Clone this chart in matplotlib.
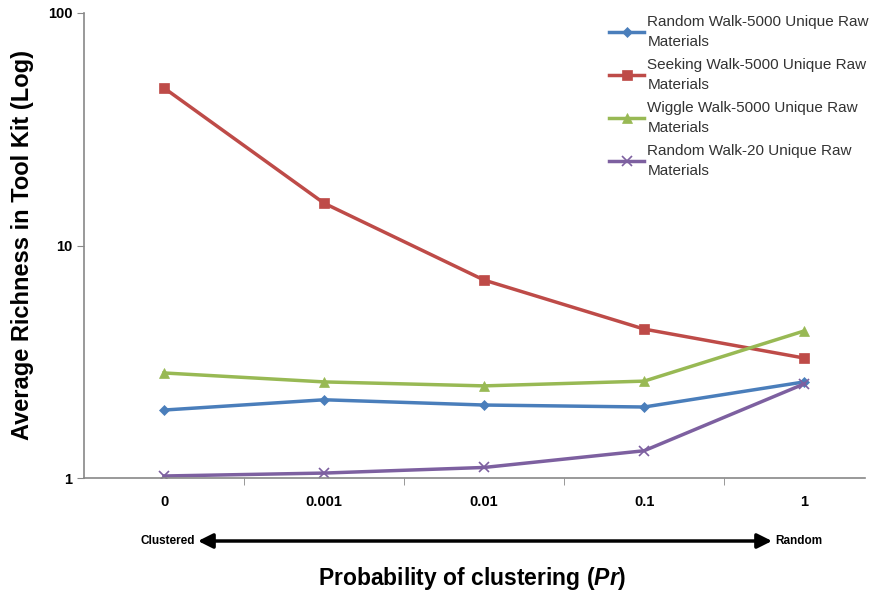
import matplotlib.pyplot as plt
from matplotlib.ticker import FixedLocator, NullLocator

plt.rcParams['font.family'] = ['Liberation Sans', 'DejaVu Sans']
plt.rcParams['mathtext.fontset'] = 'custom'
plt.rcParams['mathtext.it'] = 'Liberation Sans:italic:bold'
plt.rcParams['mathtext.rm'] = 'Liberation Sans:bold'

# Data
categories = ['0', '0.001', '0.01', '0.1', '1']
random_5000 = [1.96, 2.17, 2.06, 2.02, 2.59]
seeking_5000 = [47.6, 15.2, 7.1, 4.37, 3.28]
wiggle_5000 = [2.83, 2.59, 2.49, 2.61, 4.29]
random_20 = [1.02, 1.05, 1.11, 1.31, 2.54]

series = [
    ('Random Walk-5000 Unique Raw\nMaterials', random_5000, '#4A7EBB', 'D', 5),
    ('Seeking Walk-5000 Unique Raw\nMaterials', seeking_5000, '#BE4B48', 's', 7),
    ('Wiggle Walk-5000 Unique Raw\nMaterials', wiggle_5000, '#98B954', '^', 7),
    ('Random Walk-20 Unique Raw\nMaterials', random_20, '#7D60A0', 'x', 7),
]

fig = plt.figure(figsize=(8.76, 5.93), dpi=100)
ax = fig.add_axes([84 / 876, 1 - 478 / 593, (865 - 84) / 876, (478 - 13) / 593])

x = list(range(len(categories)))
for label, vals, color, marker, ms in series:
    ax.plot(x, vals, color=color, lw=2.5, marker=marker, markersize=ms,
            markeredgewidth=1.2 if marker == 'x' else 0.5, label=label)

ax.set_yscale('log')
ax.set_ylim(1, 100)
ax.yaxis.set_major_locator(FixedLocator([1, 10, 100]))
ax.yaxis.set_minor_locator(NullLocator())
ax.set_yticklabels(['1', '10', '100'])

ax.set_xlim(-0.5, 4.38)
ax.set_xticks(x)
ax.set_xticklabels(categories)
ax.set_xticks([0.5, 1.5, 2.5, 3.5], minor=True)
ax.tick_params(axis='x', which='major', length=0, pad=12)
ax.tick_params(axis='x', which='minor', length=5, color='#888888')
ax.tick_params(axis='y', length=5, color='#888888')
for lab in ax.get_xticklabels() + ax.get_yticklabels():
    lab.set_fontweight('bold')
    lab.set_fontsize(10.5)

for s in ['top', 'right']:
    ax.spines[s].set_visible(False)
for s in ['left', 'bottom']:
    ax.spines[s].set_color('#888888')
    ax.spines[s].set_linewidth(1.2)

ax.set_ylabel('Average Richness in Tool Kit (Log)', fontsize=17, fontweight='bold', labelpad=10)

leg = ax.legend(loc='upper left', bbox_to_anchor=(0.655, 1.025), frameon=False,
                fontsize=11, handlelength=2.3, handletextpad=0.2, labelspacing=0.62)
for t in leg.get_texts():
    t.set_color('#333333')
    t.set_linespacing(1.5)

# arrow between Clustered and Random
fig.text(195 / 876, 1 - 541 / 593, 'Clustered', ha='right', va='center',
         fontsize=8.5, fontweight='bold')
fig.text(775 / 876, 1 - 541 / 593, 'Random', ha='left', va='center',
         fontsize=8.5, fontweight='bold')
ax.annotate('', xy=(198 / 876, 1 - 541 / 593), xytext=(772 / 876, 1 - 541 / 593),
            xycoords='figure fraction', textcoords='figure fraction',
            arrowprops=dict(arrowstyle='<|-|>', color='black', lw=2.5,
                            mutation_scale=22, shrinkA=0, shrinkB=0))

fig.text(472 / 876, 1 - 578 / 593, 'Probability of clustering ($\\it{Pr}$)',
         ha='center', va='center', fontsize=16.5, fontweight='bold')

fig.savefig('out.png', dpi=100)
